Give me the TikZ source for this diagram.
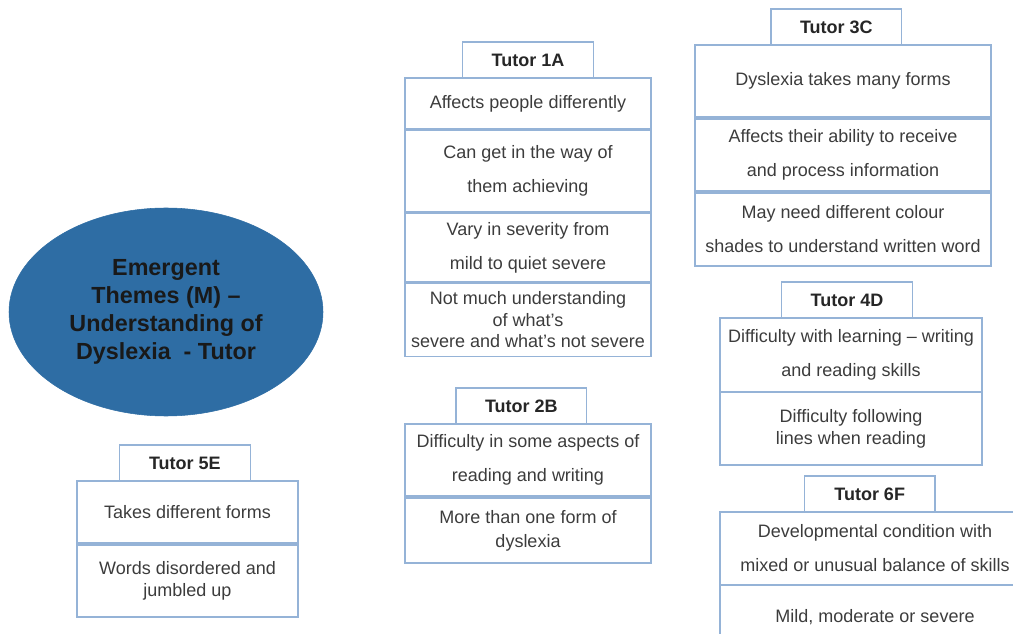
\documentclass[tikz,border=0pt]{standalone}
\usepackage{fontspec}
\setmainfont{Liberation Sans}
\usetikzlibrary{positioning,shapes.geometric}
\definecolor{cellline}{HTML}{95B3D7}
\definecolor{themeblue}{HTML}{2E6DA4}
\definecolor{cellgray}{HTML}{3C3C3C}

\begin{document}
\begin{tikzpicture}[
  x=0.75pt, y=-0.75pt,
  cell/.style  = {draw=cellline, line width=0.9pt, align=center, text=cellgray,
                  font=\fontsize{13.5}{16.5}\selectfont, inner sep=1pt, outer sep=0pt},
  widecell/.style = {cell, font=\fontsize{13.5}{25.5}\selectfont},
  head/.style  = {draw=cellline, line width=0.9pt, fill=white, text=black!85,
                  font=\fontsize{13.5}{16}\selectfont\bfseries, outer sep=0pt,
                  minimum width=98pt, minimum height=27pt},
  theme/.style = {ellipse, fill=themeblue, draw=themeblue, text=black!90, align=center,
                  font=\fontsize{17.5}{21}\selectfont\bfseries,
                  minimum width=235.5pt, minimum height=156pt},
  node distance = 1pt,
]
\useasboundingbox (0,0) rectangle (1013,634);
\clip (0,0) rectangle (1013,634);

\node[theme] (theme) at (166,312) {Emergent\\Themes (M) --\\Understanding of\\Dyslexia ~- Tutor};

\node[cell, anchor=north west, minimum width=184.5pt, minimum height=38.25pt] (c1a) at (405,78) {Affects people differently};
\node[widecell, below=of c1a, minimum width=184.5pt, minimum height=61pt] (c1b) {Can get in the way of\\them achieving};
\node[widecell, below=of c1b, minimum width=184.5pt, minimum height=51.75pt] (c1c) {Vary in severity from\\mild to quiet severe};
\node[cell, below=of c1c, minimum width=184.5pt, minimum height=54.75pt, font=\fontsize{13.5}{16}\selectfont] (c1d) {Not much understanding\\of what's\\severe and what's not severe};
\node[head, above=0pt of c1a] (t1a) {Tutor 1A};

\node[cell, anchor=north west, minimum width=222pt, minimum height=54pt] (c3a) at (695,45) {Dyslexia takes many forms};
\node[widecell, below=1.5pt of c3a, minimum width=222pt, minimum height=54pt] (c3b) {Affects their ability to receive\\and process information};
\node[widecell, below=1.5pt of c3b, minimum width=222pt, minimum height=54.75pt] (c3c) {May need different colour\\shades to understand written word};
\node[head, above=0pt of c3a, xshift=-5pt] (t3c) {Tutor 3C};

\node[widecell, anchor=north west, minimum width=196.5pt, minimum height=55.5pt] (c4a) at (720,318) {Difficulty with learning -- writing\\and reading skills};
\node[cell, below=0pt of c4a, minimum width=196.5pt, minimum height=54.75pt] (c4b) {Difficulty following\\lines when reading};
\node[head, above=0pt of c4a, xshift=-3pt] (t4d) {Tutor 4D};

\node[widecell, anchor=north west, minimum width=232.5pt, minimum height=54.75pt] (c6a) at (720,512) {Developmental condition with\\mixed or unusual balance of skills};
\node[cell, below=0pt of c6a, minimum width=232.5pt, minimum height=48pt] (c6b) {Mild, moderate or severe};
\node[head, above=0pt of c6a, xshift=-4pt] (t6f) {Tutor 6F};

\node[widecell, anchor=north west, minimum width=184.5pt, minimum height=54pt] (c2a) at (405,424) {Difficulty in some aspects of\\reading and writing};
\node[cell, below=1.5pt of c2a, minimum width=184.5pt, minimum height=48.75pt, font=\fontsize{13.5}{18}\selectfont] (c2b) {More than one form of\\dyslexia};
\node[head, above=0pt of c2a, xshift=-5pt] (t2b) {Tutor 2B};

\node[cell, anchor=north west, minimum width=165.75pt, minimum height=46.5pt] (c5a) at (77,481) {Takes different forms};
\node[cell, below=1.5pt of c5a, minimum width=165.75pt, minimum height=54pt] (c5b) {Words disordered and\\jumbled up};
\node[head, above=0pt of c5a, xshift=-2pt] (t5e) {Tutor 5E};
\end{tikzpicture}
\end{document}
